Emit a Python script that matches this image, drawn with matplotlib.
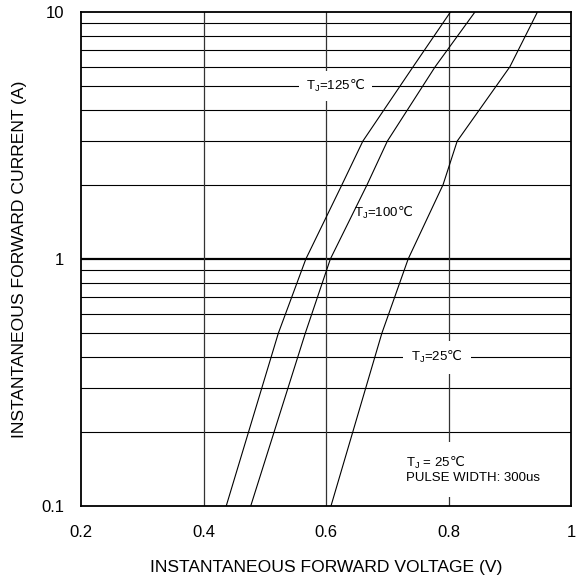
import numpy as np
import matplotlib.pyplot as plt
from matplotlib.ticker import FixedLocator, NullFormatter

plt.rcParams['font.family'] = ['Liberation Sans', 'DejaVu Sans']
plt.rcParams['mathtext.fontset'] = 'dejavusans'

# forward current points (A) and voltage (V)
current = [0.1, 0.5, 1, 2, 3, 6, 10]
v_125 = [0.437, 0.522, 0.567, 0.626, 0.660, 0.742, 0.803]
v_100 = [0.477, 0.566, 0.607, 0.667, 0.700, 0.778, 0.843]
v_25 = [0.608, 0.691, 0.734, 0.791, 0.814, 0.900, 0.945]

x_ticks = [0.2, 0.4, 0.6, 0.8, 1]
x_labels = ['0.2', '0.4', '0.6', '0.8', '1']
y_ticks = [0.1, 1, 10]
y_labels = ['0.1', '1', '10']

fig = plt.figure(figsize=(5.8, 5.8), dpi=100)
ax = fig.add_axes([0.1397, 0.1276, 0.845, 0.8517])
ax.set_yscale('log')
ax.set_xlim(0.2, 1)
ax.set_ylim(0.1, 10)

# grid
minor = [m * d for d in (0.1, 1) for m in range(2, 10)]
for y in minor:
    ax.axhline(y, color='black', lw=0.8, zorder=1)
ax.axhline(1, color='black', lw=1.6, zorder=1)
for x in [0.4, 0.6, 0.8]:
    ax.axvline(x, color='#333333', lw=0.9, zorder=1)

for v in (v_125, v_100, v_25):
    ax.plot(v, current, color='black', lw=0.8, zorder=3)

ax.set_xticks(x_ticks)
ax.set_xticklabels(x_labels)
ax.set_yticks(y_ticks)
ax.set_yticklabels(y_labels)
ax.yaxis.set_minor_locator(FixedLocator([]))
ax.yaxis.set_minor_formatter(NullFormatter())
ax.tick_params(length=0, labelsize=12, pad=12)
ax.tick_params(axis='x', pad=14)
for s in ax.spines.values():
    s.set_linewidth(1.3)

ax.set_xlabel('INSTANTANEOUS FORWARD VOLTAGE (V)', fontsize=12.6, labelpad=14)
ax.set_ylabel('INSTANTANEOUS FORWARD CURRENT (A)', fontsize=12.6, labelpad=10)

deg = r'$\mathrm{℃}$'
ax.text(0.615, 5, r'T$_\mathregular{J}$=125' + deg, fontsize=9.5, ha='center', va='center',
        bbox=dict(facecolor='white', edgecolor='none', pad=5), zorder=4)
ax.text(0.693, 1.54, r'T$_\mathregular{J}$=100' + deg, fontsize=9.5, ha='center', va='center', zorder=4)
ax.text(0.781, 0.4, r'T$_\mathregular{J}$=25' + deg, fontsize=9.5, ha='center', va='center',
        bbox=dict(facecolor='white', edgecolor='none', pad=6), zorder=4)
ax.text(0.731, 0.14, r'T$_\mathregular{J}$ = 25' + deg + '\nPULSE WIDTH: 300us', fontsize=9.5,
        ha='left', va='center', linespacing=1.1,
        bbox=dict(facecolor='white', edgecolor='none', pad=9), zorder=4)

fig.savefig('out.png', dpi=100)
